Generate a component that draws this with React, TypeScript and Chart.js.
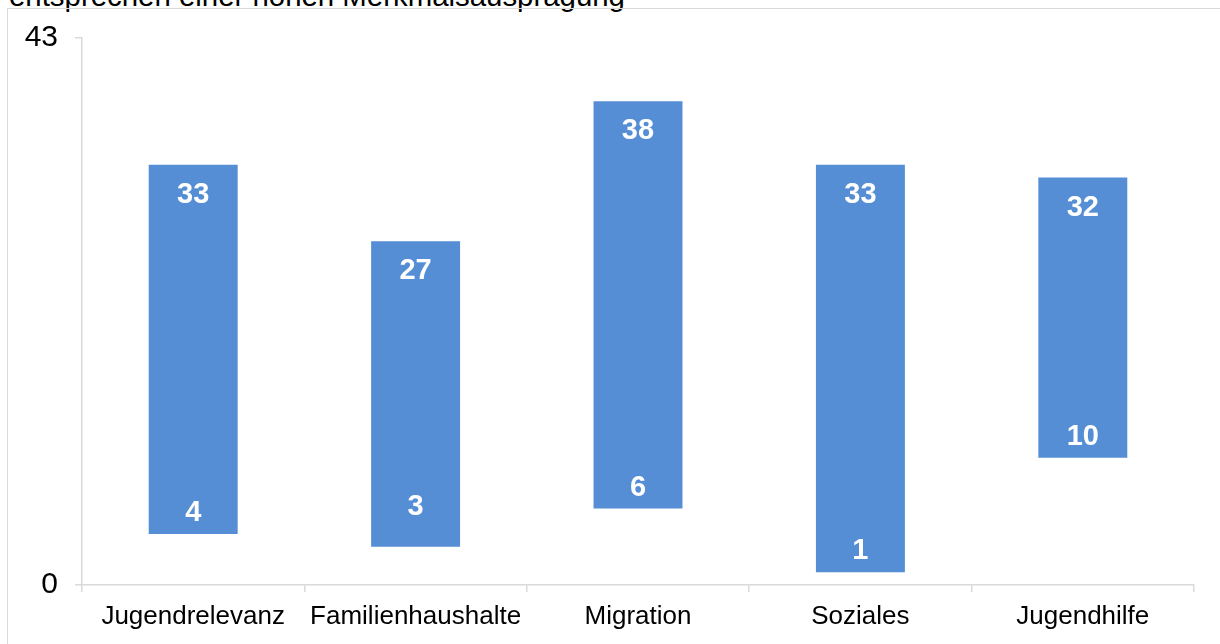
import React, { useEffect, useRef } from "react";
import { Chart, registerables } from "chart.js";

Chart.register(...registerables);

// ---- data ----
const categories = ["Jugendrelevanz", "Familienhaushalte", "Migration", "Soziales", "Jugendhilfe"];
const lowValues = [4, 3, 6, 1, 10];
const highValues = [33, 27, 38, 33, 32];
const yTickValues = [0, 43];
const captionText = "entsprechen einer hohen Merkmalsausprägung";

// ---- styles ----
const BAR_COLOR = "#558ed5";
const AXIS_COLOR = "#d9d9d9";
const FONT = "'Liberation Sans', Arial, sans-serif";
const LOW_LABEL_EXTRA = [0, 19, 0, 0, 0];

const valueLabels = {
  id: "valueLabels",
  afterDatasetsDraw(chart: any) {
    const ctx = chart.ctx;
    const meta = chart.getDatasetMeta(0);
    ctx.save();
    ctx.fillStyle = "#ffffff";
    ctx.font = `bold 29px ${FONT}`;
    ctx.textAlign = "center";
    ctx.textBaseline = "middle";
    meta.data.forEach((bar: any, i: number) => {
      const { x, y, base } = bar.getProps(["x", "y", "base"], true);
      const top = Math.min(y, base);
      const bottom = Math.max(y, base);
      ctx.fillText(String(highValues[i]), x, top + 30);
      ctx.fillText(String(lowValues[i]), x, bottom - 21 - LOW_LABEL_EXTRA[i]);
    });
    ctx.restore();
  },
};

export default function App() {
  const canvasRef = useRef<HTMLCanvasElement | null>(null);

  useEffect(() => {
    const canvas = canvasRef.current;
    if (!canvas) return;
    const chart = new Chart(canvas, {
      type: "bar",
      data: {
        labels: categories,
        datasets: [
          {
            data: categories.map((_, i) => [lowValues[i], highValues[i]]) as any,
            backgroundColor: BAR_COLOR,
            borderWidth: 0,
            barPercentage: 0.4,
            categoryPercentage: 1,
          },
        ],
      },
      options: {
        responsive: false,
        animation: false,
        devicePixelRatio: 1,
        layout: { padding: { left: 0, top: 37.5, right: 26, bottom: 0 } },
        plugins: {
          legend: { display: false },
          tooltip: { enabled: false },
          title: { display: false },
        },
        scales: {
          x: {
            grid: {
              display: true,
              offset: true,
              drawOnChartArea: false,
              drawTicks: true,
              tickLength: 7,
              color: AXIS_COLOR,
              lineWidth: 1.5,
            },
            border: { display: true, color: AXIS_COLOR, width: 1.5 },
            ticks: {
              color: "#000000",
              font: { family: FONT, size: 26 },
              padding: 9,
              maxRotation: 0,
              autoSkip: false,
            },
            afterFit(scale: any) {
              scale.height = 59;
            },
          },
          y: {
            min: 0,
            max: 43,
            grid: {
              display: true,
              drawOnChartArea: false,
              drawTicks: true,
              tickLength: 7,
              color: AXIS_COLOR,
              lineWidth: 1.5,
            },
            border: { display: true, color: AXIS_COLOR, width: 1.5 },
            ticks: {
              color: "#000000",
              font: { family: FONT, size: 30 },
              padding: 17,
            },
            afterBuildTicks(scale: any) {
              scale.ticks = yTickValues.map((v) => ({ value: v }));
            },
            afterFit(scale: any) {
              scale.width = 82;
            },
          },
        },
      },
      plugins: [valueLabels],
    });
    return () => chart.destroy();
  }, []);

  return (
    <div
      style={{
        position: "relative",
        width: 1220,
        height: 644,
        overflow: "hidden",
        background: "#ffffff",
      }}
    >
      <style>{`body{margin:0;}`}</style>
      <div
        style={{
          position: "absolute",
          left: 9,
          top: -19,
          fontFamily: FONT,
          fontSize: 29.4,
          lineHeight: "29px",
          color: "#000000",
          whiteSpace: "nowrap",
        }}
      >
        {captionText}
      </div>
      <div
        style={{
          position: "absolute",
          left: 7,
          top: 8,
          width: 1400,
          height: 800,
          border: `1.5px solid ${AXIS_COLOR}`,
        }}
      />
      <canvas
        ref={canvasRef}
        width={1220}
        height={644}
        style={{ position: "absolute", left: 0, top: 0, width: 1220, height: 644 }}
      />
    </div>
  );
}
